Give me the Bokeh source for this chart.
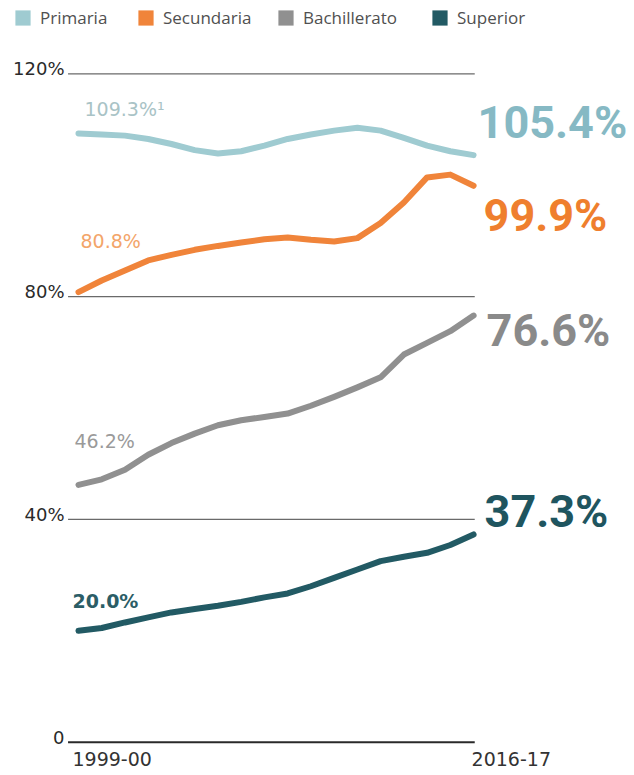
from bokeh.plotting import figure
from bokeh.models import Range1d, Legend, LegendItem, ColumnDataSource
from bokeh.core.properties import value
from bokeh.embed import file_html
from bokeh.resources import INLINE

# ---- data ----
years = ["1999-00", "2000-01", "2001-02", "2002-03", "2003-04", "2004-05", "2005-06",
         "2006-07", "2007-08", "2008-09", "2009-10", "2010-11", "2011-12", "2012-13",
         "2013-14", "2014-15", "2015-16", "2016-17"]
primaria = [109.3, 109.1, 108.9, 108.3, 107.4, 106.3, 105.7, 106.1, 107.1, 108.3,
            109.1, 109.8, 110.3, 109.8, 108.5, 107.1, 106.1, 105.4]
secundaria = [80.8, 82.9, 84.7, 86.5, 87.5, 88.4, 89.1, 89.7, 90.3, 90.6,
              90.2, 89.9, 90.5, 93.2, 96.9, 101.4, 101.9, 99.9]
bachillerato = [46.2, 47.2, 48.9, 51.6, 53.7, 55.4, 56.9, 57.8, 58.4, 59.0,
                60.4, 62.0, 63.7, 65.5, 69.6, 71.7, 73.8, 76.6]
superior = [20.0, 20.5, 21.5, 22.4, 23.3, 23.9, 24.5, 25.2, 26.0, 26.7,
            28.0, 29.5, 31.0, 32.5, 33.3, 34.0, 35.4, 37.3]
series_names = ["Primaria", "Secundaria", "Bachillerato", "Superior"]
start_labels = ["109.3%\u00b9", "80.8%", "46.2%", "20.0%"]
y_ticks = [0, 40, 80, 120]
y_tick_labels = ["0", "40%", "80%", "120%"]
x_tick_labels = ["1999-00", "2016-17"]

# ---- style ----
line_colors = ["#9fcbd1", "#f0843a", "#909090", "#225a64"]
end_colors = ["#86b9c4", "#ef7f2e", "#8a8a8a", "#1f555f"]
start_colors = ["#a9c3c6", "#f3a56a", "#9a9a9a", "#2b5d66"]
start_weights = ["normal", "normal", "normal", "bold"]
start_dx = [6, 2, -4, -6]
start_dy = [-24, -51, -44, -30]
end_dx = [4, 10, 13, 11]
end_dy = [-33, 30, 15, -23]
legend_x = [13, 136, 276, 430]
LABEL_FONT = "DejaVu Sans"
BIG_FONT = "Roboto"

N = len(years)
idx = list(range(N))

p = figure(width=626, height=772, x_range=Range1d(-3.356, 23.580),
           y_range=Range1d(-5.440, 133.160), output_backend="svg",
           toolbar_location=None, min_border=0,
           x_axis_location=None, y_axis_location=None)
p.grid.visible = False
p.outline_line_color = None
p.background_fill_color = "white"

# gridlines
grid_src = ColumnDataSource(dict(y=y_ticks, x0=[-0.45] * len(y_ticks), x1=[17.05] * len(y_ticks),
                                 lab=y_tick_labels, xl=[0] * len(y_ticks),
                                 w=[2.0 if t == 0 else 1.3 for t in y_ticks],
                                 c=["#2a2a2a" if t == 0 else "#6a6a6a" for t in y_ticks]))
p.segment(x0="x0", y0="y", x1="x1", y1="y", line_color="c", line_width="w", source=grid_src)
p.text(x="xl", y="y", text="lab", source=grid_src, x_offset=-14, y_offset=-5,
       text_align="right", text_baseline="alphabetic",
       text_font=value(LABEL_FONT), text_font_size="18px", text_color="#2a2a2a")

# x labels
p.text(x=[0, N - 1], y=[0, 0], text=x_tick_labels, x_offset=[-6, -2], y_offset=10,
       text_align="left", text_baseline="top",
       text_font=value(LABEL_FONT), text_font_size="19px", text_color="#333333")

all_series = [primaria, secundaria, bachillerato, superior]
for k, vals in enumerate(all_series):
    p.line(idx, vals, line_color=line_colors[k], line_width=6, line_join="round", line_cap="round")
    p.text(x=[0], y=[vals[0]], text=[start_labels[k]], x_offset=start_dx[k], y_offset=start_dy[k],
           text_align="left", text_baseline="alphabetic",
           text_font=value(LABEL_FONT), text_font_size="19px",
           text_font_style=start_weights[k], text_color=start_colors[k])
    p.text(x=[N - 1], y=[vals[-1]], text=["%.1f%%" % vals[-1]], x_offset=end_dx[k], y_offset=end_dy[k],
           text_align="left", text_baseline="alphabetic",
           text_font=value(BIG_FONT), text_font_size="45px",
           text_font_style="bold", text_color=end_colors[k])

# legend (one per item for exact placement); swatch renderers hold no visible data
nan = float("nan")
for k, name in enumerate(series_names):
    r = p.quad(left=[nan], right=[nan], top=[nan], bottom=[nan],
               fill_color=line_colors[k], line_color=None)
    leg = Legend(items=[LegendItem(label=name, renderers=[r])], location=(legend_x[k], 743),
                 orientation="horizontal", padding=0, margin=0, border_line_color=None,
                 background_fill_alpha=0, label_standoff=8, glyph_width=19, glyph_height=19,
                 label_height=18, label_text_font="Open Sans", label_text_font_size="17px",
                 label_text_color="#505050")
    p.add_layout(leg)

open("out.html", "w").write(file_html(p, INLINE))
